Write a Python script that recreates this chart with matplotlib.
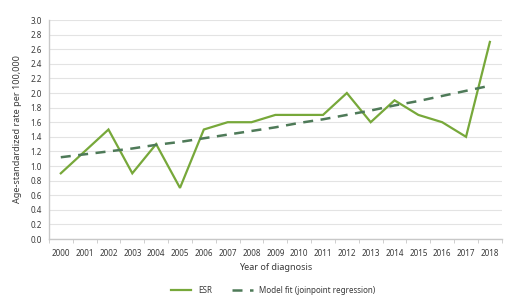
import matplotlib
matplotlib.use("Agg")
import matplotlib.pyplot as plt
import numpy as np

years = [str(y) for y in range(2000, 2019)]
esr = [0.9, 1.2, 1.5, 0.9, 1.3, 0.7, 1.5, 1.6, 1.6, 1.7,
       1.7, 1.7, 2.0, 1.6, 1.9, 1.7, 1.6, 1.4, 2.7]
model_fit = [1.12, 1.16, 1.20, 1.24, 1.29, 1.33, 1.38, 1.43, 1.48, 1.53,
             1.59, 1.64, 1.70, 1.76, 1.83, 1.89, 1.96, 2.03, 2.10]
yticks = [0.0, 0.2, 0.4, 0.6, 0.8, 1.0, 1.2, 1.4, 1.6, 1.8, 2.0,
          2.2, 2.4, 2.6, 2.8, 3.0]

ESR_C = "#77a83a"
FIT_C = "#4e7a58"
GRID = "#e3e3e3"
AXIS = "#c8c8c8"
TEXT = "#3a3a3a"

plt.rcParams["font.family"] = ["Noto Sans", "DejaVu Sans"]

fig = plt.figure(figsize=(5.2, 3.08), dpi=100)
ax = fig.add_axes([0.094, 0.224, 0.871, 0.711])

x = np.arange(len(years))
ax.plot(x, esr, color=ESR_C, lw=1.6, label="ESR", solid_joinstyle="miter")
ax.plot(x, model_fit, color=FIT_C, lw=1.8, ls=(0, (4, 3)),
        label="Model fit (joinpoint regression)")

ax.set_xlim(-0.5, len(years) - 0.5)
ax.set_ylim(0, 3.0)
ax.set_yticks(yticks)
ax.set_yticklabels([f"{v:.1f}" for v in yticks])
ax.set_xticks(x)
ax.set_xticklabels(years)
ax.set_xticks(np.arange(-0.5, len(years), 1), minor=True)
ax.tick_params(axis="x", which="major", length=0, pad=7, labelsize=5.8, colors=TEXT)
ax.tick_params(axis="x", which="minor", length=3, color=AXIS, direction="out")
ax.tick_params(axis="y", length=0, pad=5, labelsize=5.8, colors=TEXT)

ax.grid(axis="y", color=GRID, lw=0.8)
ax.set_axisbelow(True)
for s in ["top", "right"]:
    ax.spines[s].set_visible(False)
for s in ["left", "bottom"]:
    ax.spines[s].set_color(AXIS)
    ax.spines[s].set_linewidth(1.0)

ax.set_xlabel("Year of diagnosis", fontsize=6.5, color=TEXT, labelpad=4)
ax.set_ylabel("Age-standardized rate per 100,000", fontsize=6.5, color=TEXT, labelpad=6)

fig.legend(loc="center", bbox_to_anchor=(0.525, 0.058), ncol=2, frameon=False,
           fontsize=5.8, handlelength=2.6, columnspacing=2.5, labelcolor=TEXT)

fig.savefig("out.png", dpi=100, facecolor="white")
